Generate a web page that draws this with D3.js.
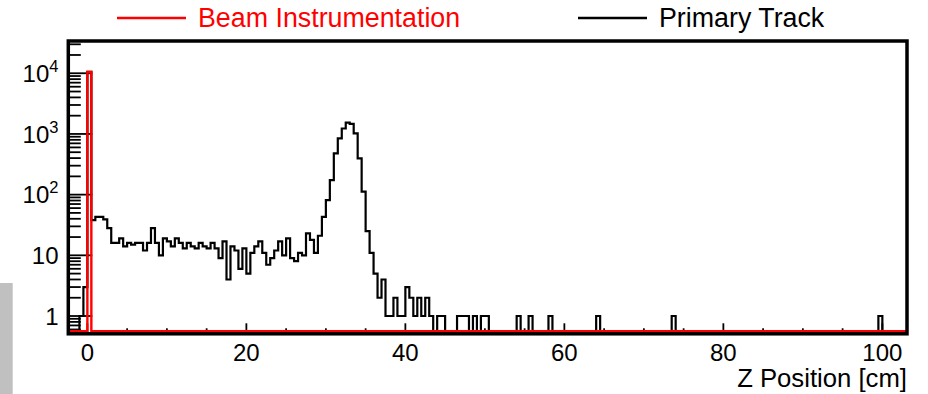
<!DOCTYPE html>
<html><head><meta charset="utf-8">
<script src="https://cdn.jsdelivr.net/npm/d3@7"></script>
<style>
html,body{margin:0;padding:0;background:#fff;}
svg{display:block;font-family:"Liberation Sans",Arial,Helvetica,sans-serif;}
</style>
</head><body>
<svg id="chart" width="928" height="394"></svg>
<script>
// ---------- data ----------
const binWidth = 0.5;
// Primary Track: dense counts, first bin starts at -1.5 cm, bins of 0.5 cm
const primaryFirstBinLow = -1.5;
const primaryCounts = [
  0, 1, 3, 10500,
  38, 43, 43, 39, 28, 16, 16, 19, 14, 16,
  15, 16, 16, 12, 16, 28, 16, 10, 19, 17,
  14, 19, 16, 13, 16, 14, 13, 16, 14, 13,
  16, 13, 9, 17, 4, 14, 12, 6, 13, 5,
  11, 14, 17, 11, 7, 9, 12, 17, 10, 19,
  9, 8, 11, 10, 23, 18, 11, 21, 43, 81,
  173, 478, 845, 1230, 1535, 1460, 1020, 395, 112, 25,
  11, 5, 2, 4, 1, 1, 2, 1, 1, 3,
  2, 1, 2, 1, 2, 1, 0, 1, 1, 0,
  0, 0, 1, 1, 1, 0, 1, 0, 1, 1
];
// Primary Track: sparse far tail (bin low edge in cm, count)
const primaryTailBinLows = [54.0, 55.5, 58.0, 64.0, 73.5, 99.5];
const primaryTailCounts  = [1, 1, 1, 1, 1, 1];
// Beam Instrumentation (bin low edge in cm, count)
const beamBinLows = [0.0];
const beamCounts  = [10500];

const xTickValues = [0, 20, 40, 60, 80, 100];
const xTickLabels = ["0", "20", "40", "60", "80", "100"];
const yTickValues = [1, 10, 100, 1000, 10000];
const yTickBase   = ["1", "10", "10", "10", "10"];
const yTickSup    = ["", "", "2", "3", "4"];
const seriesNames = ["Beam Instrumentation", "Primary Track"];
const seriesColors = ["#ff0000", "#000000"];
const xTitle = "Z Position [cm]";

// ---------- layout ----------
const plotLeft = 68.3, plotRight = 907, plotTop = 41, plotBottom = 333.8;
const histBase = 331.3;
const svg = d3.select("#chart");

const x = d3.scaleLinear().domain([-2.4, 103.1]).range([plotLeft, plotRight]);
const y = d3.scaleLog().domain([0.56, 34000]).range([histBase, plotTop]).clamp(true);
const yv = v => v > 0 ? y(v) : histBase;

// gray block at bottom-left
svg.append("rect").attr("x", 0).attr("y", 283).attr("width", 12.7).attr("height", 111)
  .attr("fill", "#c0c0c0");

// ---------- axis ticks ----------
const tickG = svg.append("g").attr("stroke", "#000").attr("stroke-width", 1.8);
const xMinor = d3.range(0, 101, 5);
tickG.selectAll("line.xm").data(xMinor).join("line")
  .attr("x1", d => x(d)).attr("x2", d => x(d))
  .attr("y1", plotBottom).attr("y2", d => plotBottom - (d % 20 === 0 ? 10.5 : 5.5));
const yMinor = [];
for (let e = -1; e <= 4; e++) for (let m = 2; m <= 9; m++) {
  const v = m * Math.pow(10, e);
  if (v > y.domain()[0] && v < y.domain()[1]) yMinor.push(v);
}
tickG.selectAll("line.ym").data(yMinor).join("line")
  .attr("x1", plotLeft).attr("x2", plotLeft + 12.5)
  .attr("y1", d => y(d)).attr("y2", d => y(d));
tickG.selectAll("line.yM").data(yTickValues).join("line")
  .attr("x1", plotLeft).attr("x2", plotLeft + 24)
  .attr("y1", d => y(d)).attr("y2", d => y(d));

// ---------- histograms ----------
svg.append("clipPath").attr("id", "clip").append("rect")
  .attr("x", plotLeft).attr("y", plotTop).attr("width", plotRight - plotLeft).attr("height", plotBottom - plotTop);

const jMin = Math.floor(x.domain()[0] / binWidth), jMax = Math.ceil(x.domain()[1] / binWidth);
function denseBins(lows, counts) {
  const m = new Map();
  lows.forEach((lo, i) => m.set(Math.round(lo / binWidth), counts[i]));
  return d3.range(jMin, jMax).map(j => ({ x0: j * binWidth, x1: (j + 1) * binWidth, v: m.get(j) || 0 }));
}
const primaryBins = denseBins(
  primaryCounts.map((c, i) => primaryFirstBinLow + i * binWidth).concat(primaryTailBinLows),
  primaryCounts.concat(primaryTailCounts));
const beamBins = denseBins(beamBinLows, beamCounts);

function stepPath(bins) {
  let p = "";
  bins.forEach((b, i) => {
    p += (i === 0 ? "M" : "L") + `${x(b.x0)},${yv(b.v)}L${x(b.x1)},${yv(b.v)}`;
  });
  return p;
}
const hg = svg.append("g").attr("clip-path", "url(#clip)");
hg.append("path").attr("d", stepPath(primaryBins)).attr("fill", "none")
  .attr("stroke", seriesColors[1]).attr("stroke-width", 2.2).attr("stroke-linejoin", "miter");
hg.append("path").attr("d", stepPath(beamBins)).attr("fill", "none")
  .attr("stroke", seriesColors[0]).attr("stroke-width", 2.4).attr("stroke-linejoin", "miter");

// ---------- frame ----------
svg.append("rect").attr("x", plotLeft).attr("y", plotTop)
  .attr("width", plotRight - plotLeft).attr("height", plotBottom - plotTop)
  .attr("fill", "none").attr("stroke", "#000").attr("stroke-width", 3.5);

// ---------- tick labels ----------
svg.append("g").selectAll("text").data(xTickValues).join("text")
  .attr("x", d => x(d)).attr("y", 361).attr("text-anchor", "middle")
  .attr("font-size", 24).attr("fill", "#000")
  .text((d, i) => xTickLabels[i]);

const yl = svg.append("g").selectAll("text").data(yTickValues).join("text")
  .attr("x", 58.5).attr("y", d => y(d) + 8.6).attr("text-anchor", "end")
  .attr("font-size", 24).attr("fill", "#000");
yl.each(function(d, i) {
  const t = d3.select(this);
  t.append("tspan").text(yTickBase[i]);
  if (yTickSup[i]) t.append("tspan").attr("dy", -10).attr("font-size", 16.5).text(yTickSup[i]);
});

svg.append("text").attr("x", plotRight).attr("y", 387).attr("text-anchor", "end")
  .attr("font-size", 25.7).attr("fill", "#000").text(xTitle);

// ---------- legend ----------
const legendX = [117, 578];
seriesNames.forEach((name, i) => {
  svg.append("line").attr("x1", legendX[i]).attr("x2", legendX[i] + 69)
    .attr("y1", 18).attr("y2", 18).attr("stroke", seriesColors[i]).attr("stroke-width", 2.5);
  svg.append("text").attr("x", legendX[i] + 81).attr("y", 27)
    .attr("font-size", 26.8).attr("fill", seriesColors[i]).text(name);
});
</script>
</body></html>
